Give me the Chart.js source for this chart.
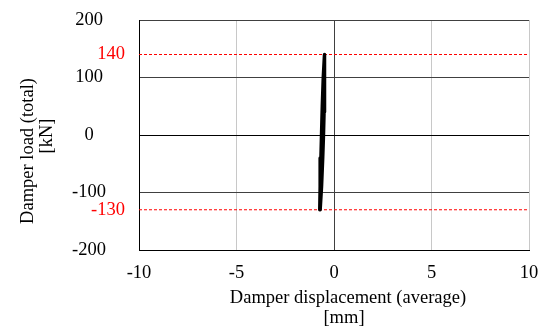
<!DOCTYPE html>
<html>
<head>
<meta charset="utf-8">
<script src="https://cdn.jsdelivr.net/npm/chart.js@4/dist/chart.umd.min.js"></script>
<style>
  body { margin: 0; background: #fff; }
</style>
</head>
<body>
<canvas id="myChart" width="545" height="329"></canvas>
<script>
// data
const loopX = [-0.71, -0.64, -0.58, -0.54, -0.51, -0.48, -0.48, -0.50, -0.55, -0.60, -0.64, -0.67, -0.71, -0.73];
const loopY = [-130, -90, -40, 0, 40, 90, 140, 140, 100, 50, 0, -40, -90, -130];
const limitLoads = [140, -130];
const xTicks = [-10, -5, 0, 5, 10];
const yTicks = [-200, -100, 0, 100, 200];

const FONT = "'Liberation Serif', 'Times New Roman', serif";
const FSIZE = 18.5;

// setup
const datasets = [
  {
    label: "Hysteresis",
    data: loopX.map((x, i) => ({ x: x, y: loopY[i] })),
    borderColor: "#000",
    borderWidth: 3.5,
    borderJoinStyle: "round",
    borderCapStyle: "round",
    pointRadius: 0,
    tension: 0,
  },
];
limitLoads.forEach((v) => {
  datasets.push({
    label: "limit " + v,
    data: [
      { x: xTicks[0], y: v },
      { x: xTicks[xTicks.length - 1], y: v },
    ],
    borderColor: "#ff0000",
    borderWidth: 1,
    borderDash: [3, 2],
    pointRadius: 0,
  });
});

// titles and red labels
const textPlugin = {
  id: "textPlugin",
  afterDraw(chart) {
    const ctx = chart.ctx;
    const area = chart.chartArea;
    const y = chart.scales.y;
    ctx.save();
    ctx.font = FSIZE + "px " + FONT;
    ctx.textBaseline = "middle";

    ctx.fillStyle = "#ff0000";
    ctx.textAlign = "right";
    limitLoads.forEach((v) => {
      ctx.fillText(String(v), area.left - 14, y.getPixelForValue(v));
    });

    ctx.fillStyle = "#000";
    ctx.textAlign = "center";
    ctx.fillText("Damper displacement (average)", 348, 298);
    ctx.fillText("[mm]", 344, 318);

    ctx.save();
    ctx.translate(28, 151);
    ctx.rotate(-Math.PI / 2);
    ctx.fillText("Damper load (total)", 0, 0);
    ctx.restore();
    ctx.translate(47, 136);
    ctx.rotate(-Math.PI / 2);
    ctx.fillText("[kN]", 0, 0);
    ctx.restore();
  },
};

// config
const config = {
  type: "line",
  data: { datasets },
  options: {
    responsive: false,
    animation: false,
    layout: { padding: { top: 20, right: 16, left: 0, bottom: 0 } },
    plugins: { legend: { display: false }, tooltip: { enabled: false } },
    scales: {
      x: {
        type: "linear",
        min: -10,
        max: 10,
        afterBuildTicks: (scale) => {
          scale.ticks = xTicks.map((v) => ({ value: v }));
        },
        afterFit: (scale) => {
          scale.height = 79;
          scale.paddingLeft = 0;
          scale.paddingRight = 0;
        },
        grid: {
          drawTicks: false,
          color: (c) => (c.tick && c.tick.value === 0 ? "#404040" : "#c8c8c8"),
        },
        border: { color: "#000", width: 1 },
        ticks: {
          padding: 12,
          color: "#000",
          font: { family: FONT, size: FSIZE },
          maxRotation: 0,
        },
      },
      y: {
        type: "linear",
        min: -200,
        max: 200,
        afterBuildTicks: (scale) => {
          scale.ticks = yTicks.map((v) => ({ value: v }));
        },
        afterFit: (scale) => {
          scale.width = 139;
          scale.paddingTop = 0;
          scale.paddingBottom = 0;
        },
        grid: {
          drawTicks: false,
          color: (c) => (c.tick && c.tick.value === 0 ? "#000" : "#404040"),
        },
        border: { color: "#000", width: 1 },
        ticks: {
          padding: 33,
          crossAlign: "center",
          color: "#000",
          font: { family: FONT, size: FSIZE },
        },
      },
    },
  },
  plugins: [textPlugin],
};

// render init block
const myChart = new Chart(document.getElementById("myChart"), config);
</script>
</body>
</html>
